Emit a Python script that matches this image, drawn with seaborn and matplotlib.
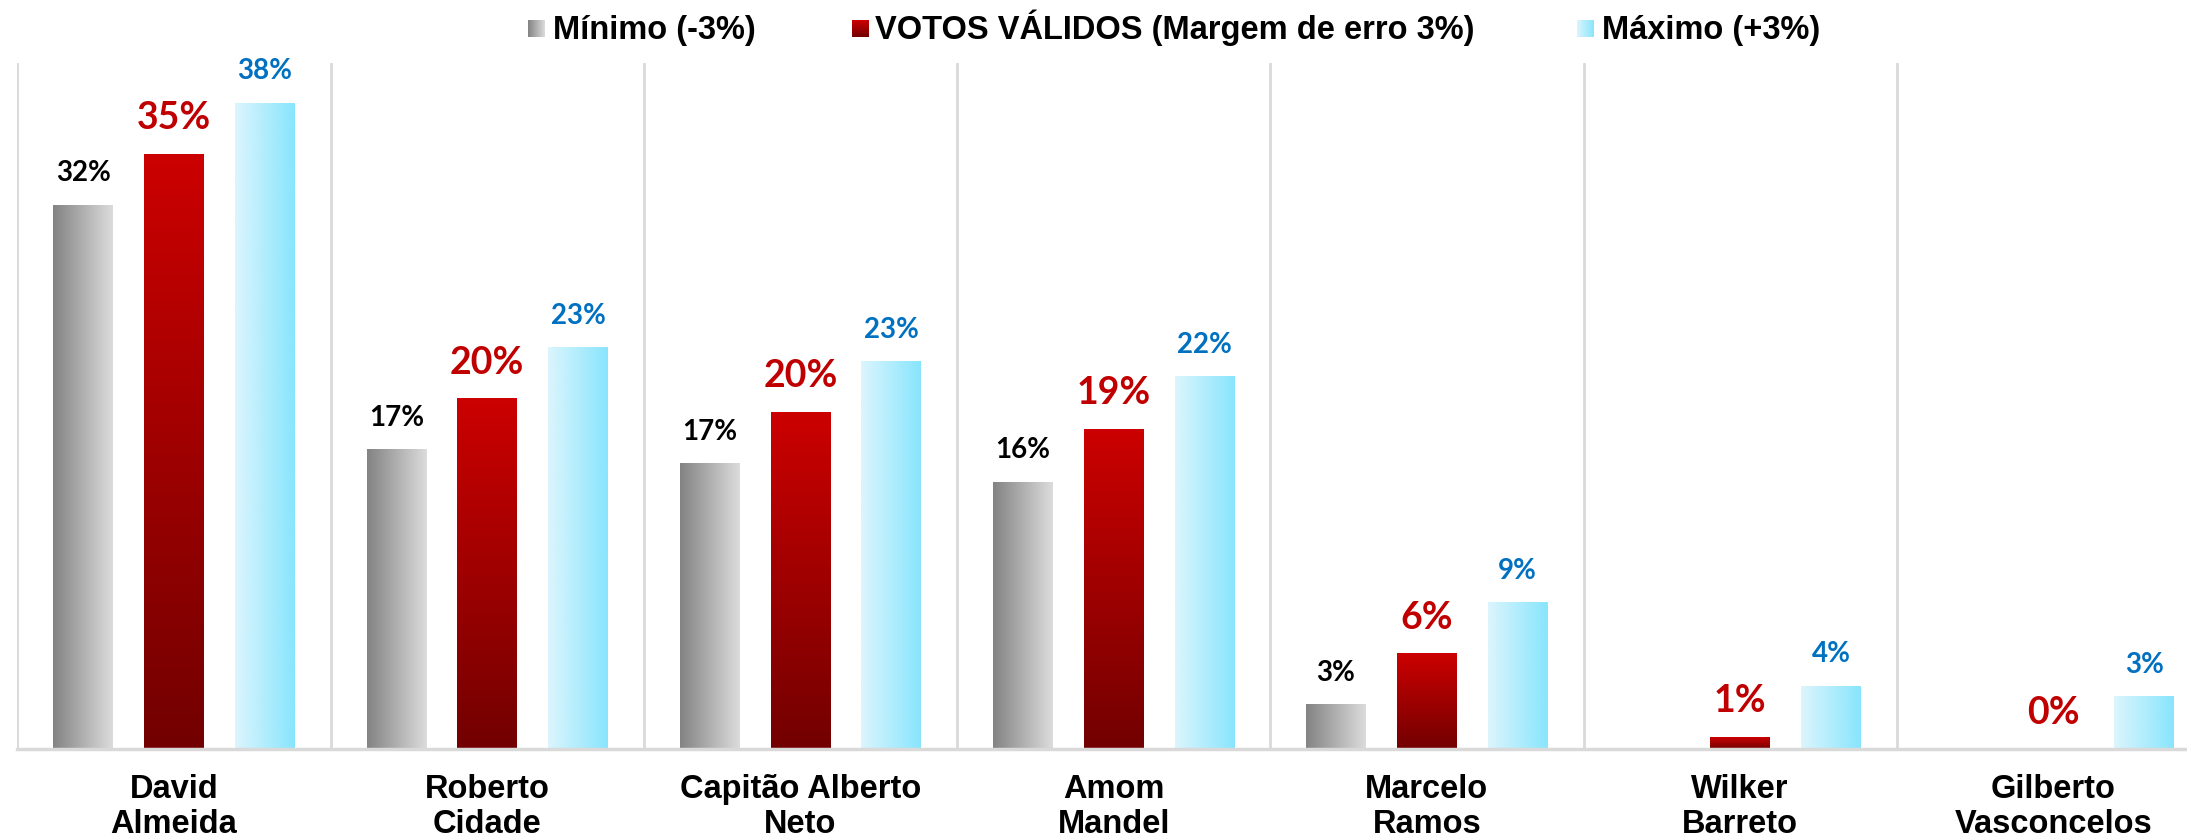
import numpy as np
import pandas as pd
import matplotlib
matplotlib.use("Agg")
import matplotlib.pyplot as plt
import seaborn as sns
from matplotlib.colors import to_rgb

# ---------------- data ----------------
candidates = ["David\nAlmeida", "Roberto\nCidade", "Capitão Alberto\nNeto",
              "Amom\nMandel", "Marcelo\nRamos", "Wilker\nBarreto",
              "Gilberto\nVasconcelos"]
series_names = ["Mínimo (-3%)", "VOTOS VÁLIDOS (Margem de erro 3%)", "Máximo (+3%)"]
minimo = [32.0, 17.6, 16.8, 15.7, 2.6, np.nan, np.nan]
validos = [35.0, 20.6, 19.8, 18.8, 5.6, 0.7, 0.0]
maximo = [38.0, 23.6, 22.8, 21.9, 8.6, 3.7, 3.1]
minimo_labels = ["32%", "17%", "17%", "16%", "3%", "", ""]
validos_labels = ["35%", "20%", "20%", "19%", "6%", "1%", "0%"]
maximo_labels = ["38%", "23%", "23%", "22%", "9%", "4%", "3%"]

# ---------------- styles ----------------
W, H, DPI = 2187, 839, 100
grad_colors = [("#838383", "#dcdcdc"),   # horizontal: left -> right
               ("#720000", "#cc0000"),   # vertical: bottom -> top
               ("#dcf5fd", "#88e5fd")]   # horizontal: left -> right
label_colors = ["#000000", "#c00000", "#0070c0"]
label_sizes = [20, 27, 20]
label_offsets = [17, 18, 17]
all_labels = [minimo_labels, validos_labels, maximo_labels]
sep_color = "#d9d9d9"

sns.set_theme(style="white")
plt.rcParams["font.family"] = ["Liberation Sans", "DejaVu Sans"]

df = pd.DataFrame({
    "Candidato": candidates * 3,
    "Série": sum([[s] * len(candidates) for s in series_names], []),
    "Valor": minimo + validos + maximo,
})

fig = plt.figure(figsize=(W / DPI, H / DPI), dpi=DPI)
ax_left, ax_right = 17.3, 2210.0
ax_bottom, ax_top = 749.0, 63.0
ax = fig.add_axes([ax_left / W, 1 - ax_bottom / H,
                   (ax_right - ax_left) / W, (ax_bottom - ax_top) / H])

sns.barplot(data=df, x="Candidato", y="Valor", hue="Série",
            order=candidates, hue_order=series_names,
            palette=[c[1] for c in grad_colors],
            width=0.87, gap=0.345, errorbar=None, legend=False, ax=ax)

def gradient_array(i, n=256):
    c0, c1 = np.array(to_rgb(grad_colors[i][0])), np.array(to_rgb(grad_colors[i][1]))
    t = np.linspace(0, 1, n)[:, None]
    cols = c0 + (c1 - c0) * t
    if i == 1:
        return cols[:, None, :]  # vertical
    return cols[None, :, :]      # horizontal

for i, cont in enumerate(ax.containers):
    arr = gradient_array(i)
    for bar in cont:
        x0, y0 = bar.get_x(), bar.get_y()
        w, h = bar.get_width(), bar.get_height()
        if not np.isfinite(h):
            continue
        xc = x0 + w / 2
        idx = int(round(xc))
        if h > 0:
            bar.set_facecolor("none")
            bar.set_edgecolor("none")
            ax.imshow(arr, extent=(x0, x0 + w, y0, y0 + h), origin="lower",
                      aspect="auto", interpolation="bilinear", zorder=2)
        lab = all_labels[i][idx]
        if lab:
            ax.annotate(lab, (xc, h), xytext=(0, label_offsets[i]),
                        textcoords="offset points", ha="center", va="baseline",
                        fontsize=label_sizes[i], fontweight="bold",
                        color=label_colors[i], family=["Lato", "DejaVu Sans"])

ax.set_xlim(-0.5, len(candidates) - 0.5)
ax.set_ylim(0, (ax_bottom - ax_top) / 17.0)

# separators
ax.set_xticks(np.arange(len(candidates) + 1) - 0.5, minor=True)
ax.grid(which="minor", axis="x", color=sep_color, linewidth=2)
ax.grid(which="major", visible=False)
ax.tick_params(axis="x", which="both", length=0)
ax.tick_params(axis="x", which="major", pad=18)
ax.set_yticks([])
ax.set_xlabel("")
ax.set_ylabel("")
for s in ["top", "right", "left"]:
    ax.spines[s].set_visible(False)
ax.spines["bottom"].set_color(sep_color)
ax.spines["bottom"].set_linewidth(2.5)
ax.set_xticks(range(len(candidates)))
ax.set_xticklabels(candidates, fontsize=23.5, fontweight="bold", color="black",
                   linespacing=1.18)

# legend (manual, with gradient swatches)
legend_items = [(528, 553), (852, 875), (1577, 1602)]
for i, (sx, tx) in enumerate(legend_items):
    sax = fig.add_axes([sx / W, 1 - 37 / H, 17 / W, 17 / H])
    arr = gradient_array(i)
    sax.imshow(arr, origin="lower", aspect="auto", interpolation="bilinear")
    sax.axis("off")
    fig.text(tx / W, 1 - 39 / H, series_names[i], fontsize=23.5, fontweight="bold",
             color="black", ha="left", va="baseline")

fig.savefig("out.png", dpi=DPI, facecolor="white")
